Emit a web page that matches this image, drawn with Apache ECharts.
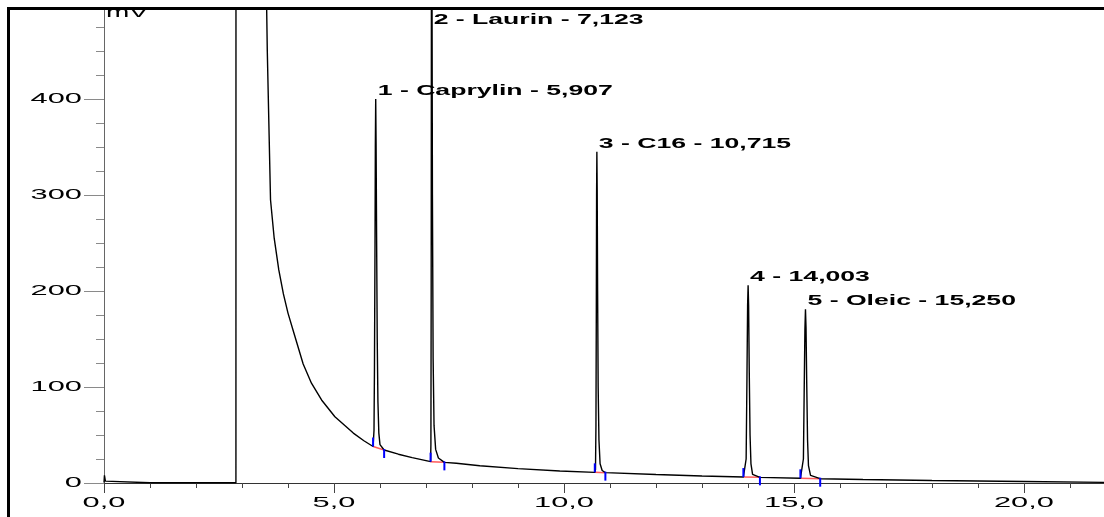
<!DOCTYPE html>
<html><head><meta charset="utf-8">
<script src="https://cdn.jsdelivr.net/npm/echarts@6/dist/echarts.min.js"></script>
<style>html,body{margin:0;padding:0;background:#fff}#c{width:1104px;height:517px}</style>
</head><body><div id="c"></div>
<script>
// ---- data ----
const times  = [0.00,0.01,0.03,0.06,1.00,2.00,2.868,2.872,3.505,3.525,3.55,3.62,3.70,3.80,3.90,4.00,4.13,4.33,4.51,4.73,5.02,5.42,5.65,
  5.85,5.86,5.87,5.88,5.892,5.899,5.907,5.915,5.926,5.94,5.955,5.975,6.00,6.09,6.40,6.70,7.00,
  7.10,7.107,7.113,7.118,7.123,7.13,7.14,7.155,7.175,7.21,7.27,7.40,7.66,8.17,9.00,9.91,
  10.67,10.685,10.695,10.703,10.709,10.715,10.722,10.731,10.743,10.76,10.785,10.83,10.90,12.00,13.00,
  13.90,13.94,13.96,13.978,13.992,14.003,14.014,14.028,14.045,14.065,14.10,14.26,
  15.14,15.18,15.205,15.222,15.238,15.25,15.262,15.277,15.295,15.315,15.36,15.57,16.50,18.00,20.00,21.74];
const signal = [0.5,8,2,0.4,0.3,0.3,0.3,2000,2000,530,450,295,255,222,197,177,156,124,104,86.5,69,52,44,
  38,40,55,120,250,350,400,355,260,150,85,52,40,34.4,30,26.5,23.3,
  22.2,40,200,520,650,540,300,130,60,35,26,21.5,20.5,18,15,12.5,
  11.1,14,60,180,300,345,305,200,100,45,20,13,10.8,8.8,7.3,
  6.2,7,25,110,185,206,185,115,50,20,9,5.9,
  4.9,6,25,95,160,181,162,105,45,18,8,4.5,3.6,2.6,1.5,0.7];

const peakNames = ['1 - Caprylin - 5,907','2 - Laurin - 7,123','3 - C16 - 10,715','4 - 14,003','5 - Oleic - 15,250'];
const peakTimes = [5.907, 7.123, 10.715, 14.003, 15.250];
const peakApex  = [400, 650, 345, 206, 181];

const startTimes  = [5.85, 7.10, 10.67, 13.90, 15.14];
const startLevels = [38, 22.2, 11.1, 6.2, 4.9];
const endTimes    = [6.09, 7.40, 10.90, 14.26, 15.57];
const endLevels   = [34.4, 21.5, 10.8, 5.9, 4.5];

const xTicks = [0, 5, 10, 15, 20];
const xTickLabels = ['0,0', '5,0', '10,0', '15,0', '20,0'];
const yTicks = [0, 100, 200, 300, 400];
const yTickLabels = ['0', '100', '200', '300', '400'];

// ---- chart ----
const FONT = '"Liberation Sans", Arial, Helvetica, sans-serif';
const X_MAX = 21.74;
const Y_MAX = 500;
const chart = echarts.init(document.getElementById('c'), null, {renderer: 'canvas'});

function stretched(x, y, text, sx, font, align) {
  return {type: 'text', x: x, y: y, scaleX: sx,
    style: {text: text, x: 0, y: 0, align: align, verticalAlign: 'middle', fill: '#000', font: font}};
}

chart.setOption({
  animation: false,
  backgroundColor: '#fff',
  grid: {left: 104, top: 3, right: 0, height: 480},
  xAxis: [{
    type: 'value', min: 0, max: X_MAX, interval: 5, position: 'bottom',
    axisLine: {show: true, onZero: false, lineStyle: {color: '#333', width: 1}},
    axisTick: {show: true, length: 10, lineStyle: {color: '#444'}},
    axisLabel: {show: false}, splitLine: {show: false}
  }, {
    type: 'value', min: 0, max: X_MAX, interval: 1, position: 'bottom', offset: 0,
    axisLine: {show: false},
    axisTick: {show: true, length: 5, lineStyle: {color: '#444'}},
    axisLabel: {show: false}, splitLine: {show: false}
  }],
  yAxis: {
    type: 'value', min: 0, max: Y_MAX, interval: 100,
    axisLine: {show: true, lineStyle: {color: '#666', width: 1}},
    axisTick: {show: true, length: 20, lineStyle: {color: '#8a8a8a'}},
    minorTick: {show: true, splitNumber: 4, length: 8, lineStyle: {color: '#8a8a8a'}},
    axisLabel: {show: false}, splitLine: {show: false}
  },
  graphic: [
    {type: 'rect', z: 100, shape: {x: 0, y: 0, width: 1104, height: 8}, style: {fill: '#fff'}},
    {type: 'rect', z: 101, shape: {x: 8.5, y: 8.5, width: 1200, height: 700}, style: {fill: 'none', stroke: '#000', lineWidth: 3}},
    {type: 'text', z: 102, x: 106, y: 13, scaleX: 2,
      style: {text: 'mV', font: '14px ' + FONT, fill: '#000', align: 'left', verticalAlign: 'middle'}}
  ],
  series: [
    { // integration baselines (red)
      type: 'custom', z: 1,
      data: startTimes.map((t, i) => [t, startLevels[i], endTimes[i], endLevels[i]]),
      encode: {x: [0, 2], y: [1, 3]},
      renderItem: function (params, api) {
        const a = api.coord([api.value(0), api.value(1)]);
        const b = api.coord([api.value(2), api.value(3)]);
        return {type: 'line', shape: {x1: a[0], y1: a[1], x2: b[0], y2: b[1]},
          style: {stroke: '#ff5a5a', lineWidth: 1.5}};
      }
    },
    { // chromatogram
      type: 'line', z: 2, showSymbol: false, clip: true, sampling: null,
      data: times.map((t, i) => [t, signal[i]]),
      lineStyle: {color: '#000', width: 1.4}
    },
    { // peak start / end markers (blue)
      type: 'custom', z: 3,
      data: startTimes.map((t, i) => [t, startLevels[i], -1]).concat(endTimes.map((t, i) => [t, endLevels[i], 1])),
      encode: {x: 0, y: 1},
      renderItem: function (params, api) {
        const p = api.coord([api.value(0), api.value(1)]);
        const d = api.value(2);
        const y1 = d < 0 ? p[1] : p[1] - 1;
        const y2 = d < 0 ? p[1] - 9 : p[1] + 8;
        return {type: 'line', shape: {x1: p[0], y1: y1, x2: p[0], y2: y2},
          style: {stroke: '#0000ff', lineWidth: 2}};
      }
    },
    { // peak labels
      type: 'custom', z: 4,
      data: peakTimes.map((t, i) => [t, peakApex[i], i]),
      encode: {x: 0, y: 1},
      renderItem: function (params, api) {
        const p = api.coord([api.value(0), Math.min(api.value(1), Y_MAX)]);
        const top = api.coord([0, Y_MAX])[1];
        const y = Math.max(p[1] - 8, top + 17);
        return stretched(p[0] + 2, y, peakNames[api.value(2)], 1.9, 'bold 14px ' + FONT, 'left');
      }
    },
    { // x tick labels
      type: 'custom', z: 4,
      data: xTicks.map(v => [v, 0]),
      encode: {x: 0, y: 1},
      renderItem: function (params, api) {
        const p = api.coord([api.value(0), 0]);
        return stretched(p[0], p[1] + 20, xTickLabels[params.dataIndex], 2.2, '14px ' + FONT, 'center');
      }
    },
    { // y tick labels
      type: 'custom', z: 4,
      data: yTicks.map(v => [0, v]),
      encode: {x: 0, y: 1},
      renderItem: function (params, api) {
        const p = api.coord([0, api.value(1)]);
        return stretched(p[0] - 22, p[1], yTickLabels[params.dataIndex], 2.2, '14px ' + FONT, 'right');
      }
    }
  ]
});
</script>
</body></html>
